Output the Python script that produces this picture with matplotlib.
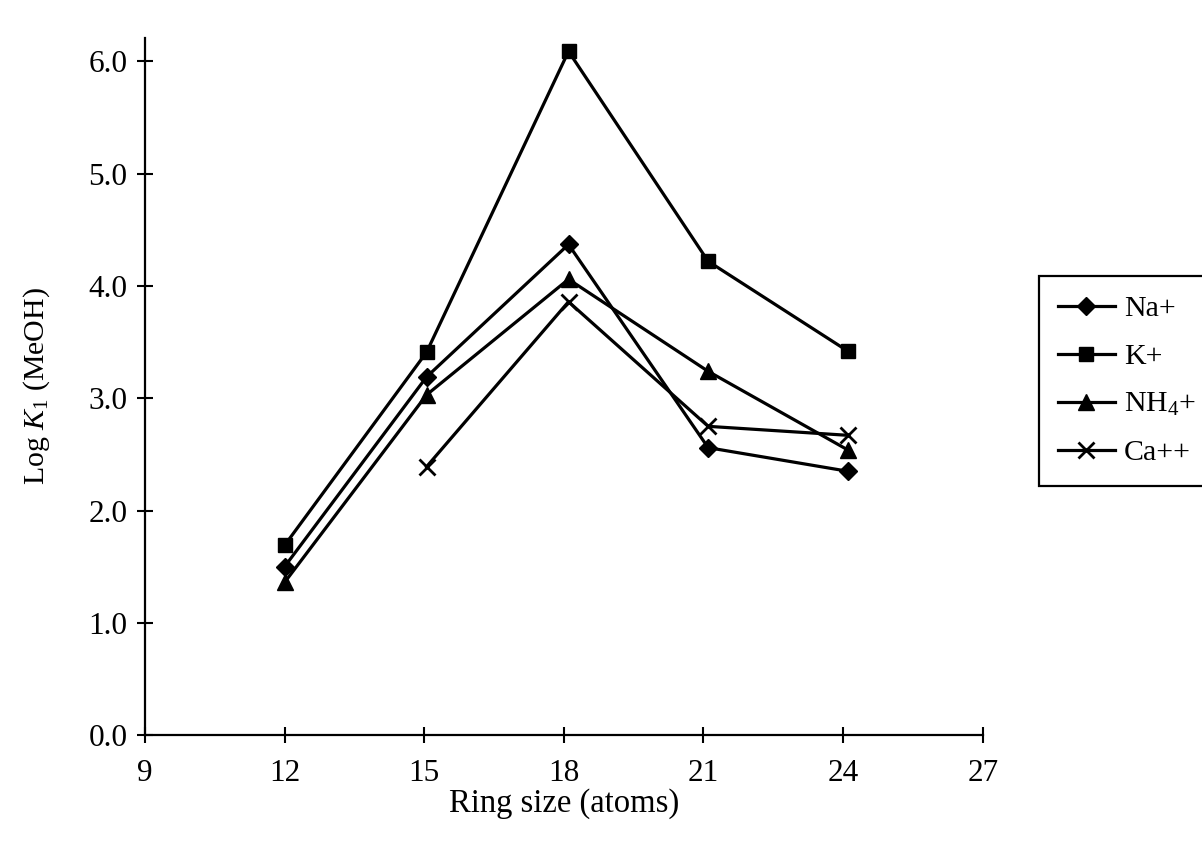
import matplotlib
matplotlib.use("Agg")
import matplotlib.pyplot as plt
from matplotlib.ticker import FormatStrFormatter

plt.rcParams['font.family'] = ['Liberation Serif', 'DejaVu Serif']
plt.rcParams['mathtext.fontset'] = 'custom'
plt.rcParams['mathtext.rm'] = 'Liberation Serif'
plt.rcParams['mathtext.it'] = 'Liberation Serif:italic'

ring_size = [12.0, 15.05, 18.1, 21.1, 24.1]
ring_size_ca = [15.05, 18.1, 21.1, 24.1]
na = [1.50, 3.19, 4.37, 2.56, 2.35]
k = [1.69, 3.41, 6.09, 4.22, 3.42]
nh4 = [1.36, 3.03, 4.06, 3.24, 2.54]
ca = [2.39, 3.86, 2.75, 2.67]
xticks = [9, 12, 15, 18, 21, 24, 27]
yticks = [0, 1, 2, 3, 4, 5, 6]

fig = plt.figure(figsize=(12.02, 8.42), dpi=100)
ax = fig.add_axes([0.1206, 0.127, 0.697, 0.828])

lw = 2.3
ax.plot(ring_size, na, color='black', lw=lw, marker='D', ms=9, label='Na+')
ax.plot(ring_size, k, color='black', lw=lw, marker='s', ms=9.5, label='K+')
ax.plot(ring_size, nh4, color='black', lw=lw, marker='^', ms=11, label=r'NH$_4$+')
ax.plot(ring_size_ca, ca, color='black', lw=lw, marker='x', ms=11, mew=2, label='Ca++')

ax.set_xlim(9, 27)
ax.set_ylim(0, 6.21)
ax.set_xticks(xticks)
ax.set_yticks(yticks)
ax.yaxis.set_major_formatter(FormatStrFormatter('%.1f'))
for s in ['top', 'right']:
    ax.spines[s].set_visible(False)
for s in ['left', 'bottom']:
    ax.spines[s].set_linewidth(1.6)
ax.tick_params(direction='inout', length=11, width=1.5, labelsize=22.5)
ax.tick_params(axis='x', pad=12)
ax.tick_params(axis='y', pad=7)

ax.set_xlabel('Ring size (atoms)', fontsize=23.5, labelpad=0)
ax.set_ylabel(r'Log $K_1$ (MeOH)', fontsize=21.5, labelpad=26)

leg = fig.legend(loc='upper left', bbox_to_anchor=(0.864, 0.672), fontsize=21.5,
                 frameon=True, fancybox=False, edgecolor='black', framealpha=1,
                 handlelength=1.9, handletextpad=0.3, borderpad=0.65, labelspacing=0.7,
                 borderaxespad=0)
leg.get_frame().set_linewidth(1.6)

fig.savefig('out.png', dpi=100)
